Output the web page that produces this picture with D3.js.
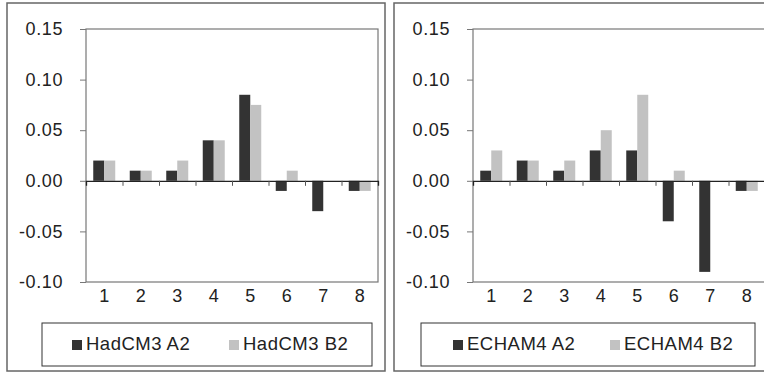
<html>
<head>
    <meta charset="utf-8">
    <script src="https://d3js.org/d3.v7.min.js"></script>
    <style>
        body { margin: 0; background: #fff; }
        text { font-family: "Liberation Sans", Arial, sans-serif; fill: #222; }
    </style>
</head>
<body>

    <svg id="chart" width="764" height="373"></svg>

    <script>

        let categories = ["1", "2", "3", "4", "5", "6", "7", "8"]
        let yTicks = [-0.10, -0.05, 0.00, 0.05, 0.10, 0.15]

        let hadA2 = [0.02, 0.01, 0.01, 0.04, 0.085, -0.01, -0.03, -0.01]
        let hadB2 = [0.02, 0.01, 0.02, 0.04, 0.075, 0.01, 0.0, -0.01]
        let echA2 = [0.01, 0.02, 0.01, 0.03, 0.03, -0.04, -0.09, -0.01]
        let echB2 = [0.03, 0.02, 0.02, 0.05, 0.085, 0.01, 0.0, -0.01]

        let names1 = ["HadCM3 A2", "HadCM3 B2"]
        let names2 = ["ECHAM4 A2", "ECHAM4 B2"]

        let colors = ["#333333", "#c2c2c2"]

        let svg = d3.select("#chart")

        svg.append("rect").attr("width", 764).attr("height", 373).attr("fill", "#fff")

        function panel(ox, a, b, names, leg) {

            let g = svg.append("g").attr("transform", `translate(${ox},0)`)

            // outer frame
            g.append("rect")
                .attr("x", 7).attr("y", 3).attr("width", 378).attr("height", 368)
                .attr("fill", "none").attr("stroke", "#666").attr("stroke-width", 1.5)

            let left = 86, right = 378, top = 29, bottom = 282

            let x = d3.scaleBand().domain(categories).range([left, right])
            let y = d3.scaleLinear().domain([-0.10, 0.15]).range([bottom, top])

            // plot frame
            g.append("rect")
                .attr("x", left).attr("y", top).attr("width", right - left).attr("height", bottom - top)
                .attr("fill", "none").attr("stroke", "#777").attr("stroke-width", 1.2)

            let yAxis = g.append("g")
                .attr("transform", `translate(${left},0)`)
                .call(d3.axisLeft(y).tickValues(yTicks).tickSize(6).tickPadding(17).tickFormat(d => d.toFixed(2)))
            yAxis.select(".domain").remove()
            yAxis.selectAll("line").attr("stroke", "#777")
            yAxis.selectAll("text").style("font-size", "18px").style("letter-spacing", "0.6px").attr("fill", "#222")

            let barW = 11
            let pairs = categories.map((c, i) => ({c: c, v: [a[i], b[i]]}))

            g.selectAll("g.cat")
                .data(pairs)
                .enter().append("g")
                .attr("class", "cat")
                .selectAll("rect")
                .data(d => d.v.map((v, k) => ({c: d.c, v: v, k: k})))
                .enter().append("rect")
                .attr("x", d => x(d.c) + x.bandwidth() / 2 - barW + d.k * barW)
                .attr("width", barW)
                .attr("y", d => y(Math.max(0, d.v)))
                .attr("height", d => Math.abs(y(d.v) - y(0)))
                .attr("fill", d => colors[d.k])

            // zero line with ticks between categories
            let edge = d3.scaleLinear().domain([0, categories.length]).range([left, right])
            let zero = g.append("g")
                .attr("transform", `translate(0,${y(0)})`)
                .call(d3.axisBottom(edge).tickValues(d3.range(1, categories.length)).tickSize(5).tickFormat(""))
            zero.select(".domain").attr("stroke", "#222").attr("stroke-width", 1.3)
            zero.selectAll("line").attr("stroke", "#555")

            let xAxis = g.append("g")
                .attr("transform", `translate(0,${bottom})`)
                .call(d3.axisBottom(x).tickSize(0).tickPadding(7))
            xAxis.select(".domain").remove()
            xAxis.selectAll("text").style("font-size", "18px").attr("fill", "#222")

            // legend
            g.append("rect")
                .attr("x", leg.x).attr("y", 323).attr("width", leg.w).attr("height", 43)
                .attr("fill", "none").attr("stroke", "#333").attr("stroke-width", 1)

            names.forEach((n, k) => {
                g.append("rect")
                    .attr("x", leg.items[k]).attr("y", 340).attr("width", 10).attr("height", 10)
                    .attr("fill", colors[k])
                g.append("text")
                    .attr("x", leg.items[k] + 14).attr("y", 345)
                    .attr("dominant-baseline", "middle")
                    .style("font-size", "18.5px")
                    .style("letter-spacing", "0.5px")
                    .text(n)
            })
        }

        panel(0, hadA2, hadB2, names1, {x: 42, w: 330, items: [72, 229]})
        panel(387, echA2, echB2, names2, {x: 34, w: 334, items: [66, 223]})

    </script>

</body>
</html>
